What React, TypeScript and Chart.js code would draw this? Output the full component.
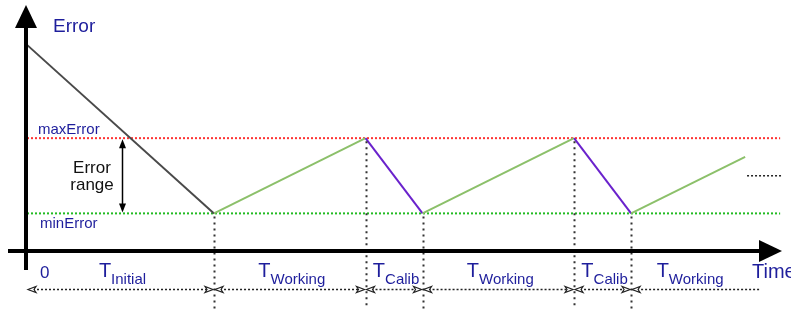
import React, { useEffect, useRef } from "react";
import { Chart, registerables } from "chart.js";

Chart.register(...registerables);

// ---- data ----
const errorTimes = [0, 10, 18.1, 21.15, 29.25, 32.3, 38.4];
const errorValues = [5.48, 1, 3, 1, 3, 1, 2.5];
const phaseNames = ["Initial", "Working", "Calib", "Working", "Calib", "Working"];
const maxError = 3;
const minError = 1;
const thresholdEnd = 40.27;
const continuationTimes = [38.5, 40.37];
const continuationValue = 2;
const arrowEnd = 39.3;
const errorRangeAt = 5.08;

const FONT = '"Liberation Sans", Arial, Helvetica, sans-serif';
const BLUE = "#1e1e9c";

function App() {
  const ref = useRef<HTMLCanvasElement | null>(null);

  useEffect(() => {
    const canvas = ref.current!;
    const diagram = {
      id: "diagram",
      afterDatasetsDraw(chart: any) {
        const { ctx } = chart;
        const xs = chart.scales.x;
        const ys = chart.scales.y;
        const px = (v: number) => xs.getPixelForValue(v);
        const py = (v: number) => ys.getPixelForValue(v);
        const axisY = py(0);
        const axisX = px(0) - 1;
        ctx.save();

        // vertical dotted lines at phase boundaries
        ctx.strokeStyle = "#333";
        ctx.lineWidth = 2;
        ctx.setLineDash([2, 4]);
        for (let i = 1; i < errorTimes.length - 1; i++) {
          ctx.beginPath();
          ctx.moveTo(Math.round(px(errorTimes[i])) + 0.5, py(errorValues[i]) + 3);
          ctx.lineTo(Math.round(px(errorTimes[i])) + 0.5, 309);
          ctx.stroke();
        }

        // dashed duration arrows
        const bounds = [...errorTimes.slice(0, errorTimes.length - 1), arrowEnd];
        const ay = 289.5;
        ctx.lineWidth = 1.5;
        ctx.setLineDash([2, 2]);
        ctx.strokeStyle = "#222";
        for (let i = 0; i < bounds.length - 1; i++) {
          const a = px(bounds[i]);
          const b = px(bounds[i + 1]);
          ctx.beginPath();
          ctx.moveTo(a + 2, ay);
          ctx.lineTo(b - 2, ay);
          ctx.stroke();
        }
        ctx.setLineDash([]);
        ctx.lineWidth = 1.2;
        const head = (tip: number, dir: number) => {
          ctx.beginPath();
          ctx.moveTo(tip, ay);
          ctx.lineTo(tip - dir * 8, ay - 3);
          ctx.lineTo(tip - dir * 6, ay);
          ctx.lineTo(tip - dir * 8, ay + 3);
          ctx.closePath();
          ctx.fillStyle = "#fff";
          ctx.fill();
          ctx.stroke();
        };
        for (let i = 0; i < bounds.length - 1; i++) {
          head(px(bounds[i]) + 1, -1);
          if (i < bounds.length - 2) head(px(bounds[i + 1]) - 1, 1);
        }

        // error range double arrow
        const ex = Math.round(px(errorRangeAt)) + 0.5;
        const top = py(maxError);
        const bot = py(minError);
        ctx.strokeStyle = "#000";
        ctx.fillStyle = "#000";
        ctx.lineWidth = 1.5;
        ctx.beginPath();
        ctx.moveTo(ex, top + 6);
        ctx.lineTo(ex, bot - 6);
        ctx.stroke();
        ctx.beginPath();
        ctx.moveTo(ex, top + 1);
        ctx.lineTo(ex - 3.5, top + 10);
        ctx.lineTo(ex + 3.5, top + 10);
        ctx.closePath();
        ctx.fill();
        ctx.beginPath();
        ctx.moveTo(ex, bot - 1);
        ctx.lineTo(ex - 3.5, bot - 10);
        ctx.lineTo(ex + 3.5, bot - 10);
        ctx.closePath();
        ctx.fill();

        // axes
        ctx.lineWidth = 4;
        ctx.strokeStyle = "#000";
        ctx.beginPath();
        ctx.moveTo(axisX, 22);
        ctx.lineTo(axisX, 270);
        ctx.moveTo(8, axisY);
        ctx.lineTo(765, axisY);
        ctx.stroke();
        ctx.beginPath();
        ctx.moveTo(axisX, 5);
        ctx.lineTo(axisX - 11, 28);
        ctx.lineTo(axisX + 11, 28);
        ctx.closePath();
        ctx.fill();
        ctx.beginPath();
        ctx.moveTo(782, axisY);
        ctx.lineTo(759, axisY - 11);
        ctx.lineTo(759, axisY + 11);
        ctx.closePath();
        ctx.fill();

        // text
        ctx.textBaseline = "alphabetic";
        ctx.fillStyle = BLUE;
        ctx.textAlign = "left";
        ctx.font = `19px ${FONT}`;
        ctx.fillText("Error", 53, 32);
        ctx.font = `15px ${FONT}`;
        ctx.fillText("maxError", 38, 134);
        ctx.fillText("minError", 40, 228);
        ctx.font = `17px ${FONT}`;
        ctx.fillText("0", 40, 278);
        ctx.font = `20px ${FONT}`;
        ctx.fillText("Time", 752, 278);

        ctx.fillStyle = "#111";
        ctx.textAlign = "center";
        ctx.font = `17px ${FONT}`;
        ctx.fillText("Error", 92, 173);
        ctx.fillText("range", 92, 190);

        // T labels
        ctx.textAlign = "left";
        ctx.fillStyle = BLUE;
        for (let i = 0; i < phaseNames.length; i++) {
          const cx = (px(errorTimes[i]) + px(errorTimes[i + 1])) / 2;
          ctx.font = `20px ${FONT}`;
          const wT = ctx.measureText("T").width;
          ctx.font = `15px ${FONT}`;
          const wS = ctx.measureText(phaseNames[i]).width;
          const left = cx - (wT + wS) / 2 + 2;
          ctx.font = `20px ${FONT}`;
          ctx.fillText("T", left, 277);
          ctx.font = `15px ${FONT}`;
          ctx.fillText(phaseNames[i], left + wT, 284);
        }
        ctx.restore();
      },
    };

    const chart = new Chart(canvas, {
      type: "scatter",
      data: {
        datasets: [
          {
            label: "Error",
            data: errorTimes.map((t, i) => ({ x: t, y: errorValues[i] })),
            showLine: true,
            borderWidth: 2,
            pointRadius: 0,
            borderColor: "#8cc06a",
            clip: false,
            segment: {
              borderColor: (c: any) => {
                if (c.p0DataIndex === 0) return "#4a4a4a";
                return c.p1.parsed.y > c.p0.parsed.y ? "#8cc06a" : "#6a22cc";
              },
            },
          } as any,
          {
            label: "maxError",
            data: [
              { x: 0, y: maxError },
              { x: thresholdEnd, y: maxError },
            ],
            showLine: true,
            borderWidth: 2,
            borderDash: [2, 2],
            pointRadius: 0,
            borderColor: "#ff3333",
            clip: false,
          } as any,
          {
            label: "minError",
            data: [
              { x: 0, y: minError },
              { x: thresholdEnd, y: minError },
            ],
            showLine: true,
            borderWidth: 2,
            borderDash: [2, 2],
            pointRadius: 0,
            borderColor: "#22bb22",
            clip: false,
          } as any,
          {
            label: "continuation",
            data: continuationTimes.map((t) => ({ x: t, y: continuationValue })),
            showLine: true,
            borderWidth: 1.5,
            borderDash: [2, 2],
            pointRadius: 0,
            borderColor: "#222",
            clip: false,
          } as any,
        ],
      },
      options: {
        responsive: false,
        animation: false,
        devicePixelRatio: 1,
        layout: { padding: { left: 27, right: 6, top: 5, bottom: 58 } },
        scales: {
          x: { type: "linear", min: 0, max: 40.53, display: false },
          y: { type: "linear", min: 0, max: 6.54, display: false },
        },
        plugins: {
          legend: { display: false },
          tooltip: { enabled: false },
          title: { display: false },
        },
      },
      plugins: [diagram],
    });
    return () => chart.destroy();
  }, []);

  return (
    <div style={{ position: "fixed", left: 0, top: 0, width: 791, height: 309, background: "#fff" }}>
      <canvas ref={ref} width={791} height={309} style={{ display: "block" }} />
    </div>
  );
}

export default App;
